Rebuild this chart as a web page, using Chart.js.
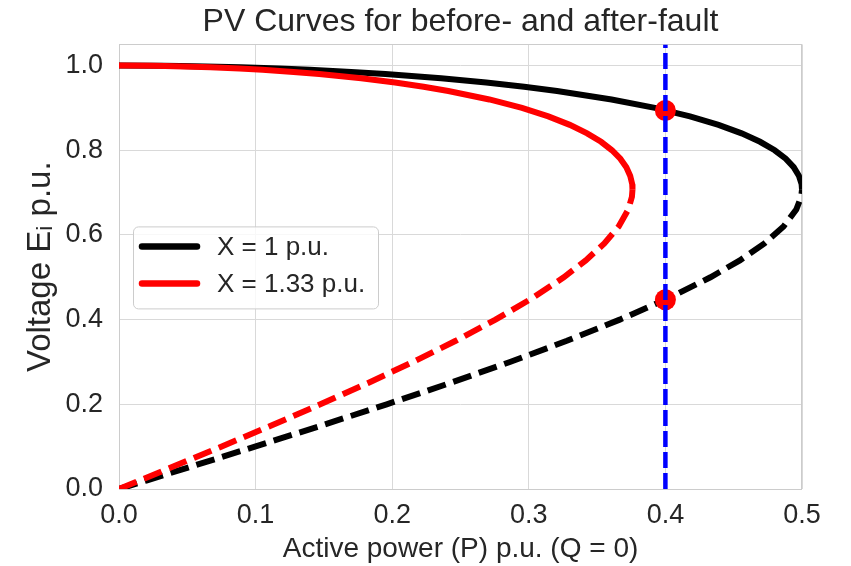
<!DOCTYPE html>
<html>
<head>
<meta charset="utf-8">
<script src="https://cdn.jsdelivr.net/npm/chart.js@4.4.1/dist/chart.umd.min.js"></script>
<style>
  html, body { margin: 0; padding: 0; background: #fff; }
</style>
</head>
<body>
<canvas id="pvChart" width="851" height="566"></canvas>
<script>
// voltage points on the upper (stable) branch
const vUpper = [1.0, 0.9995, 0.999, 0.998, 0.996, 0.993, 0.99, 0.985, 0.98, 0.97, 0.96, 0.95, 0.94, 0.92, 0.9, 0.88, 0.86, 0.84, 0.82, 0.8, 0.78, 0.76, 0.74, 0.72, 0.707]
const pUpperX1 = [0, 0.0316, 0.0447, 0.0631, 0.0890, 0.1173, 0.1397, 0.1700, 0.1950, 0.2358, 0.2688, 0.2966, 0.3207, 0.3606, 0.3923, 0.4180, 0.4389, 0.4558, 0.4693, 0.4800, 0.4881, 0.4939, 0.4977, 0.4997, 0.5000]
const pUpperX133 = [0, 0.0238, 0.0336, 0.0474, 0.0669, 0.0882, 0.1050, 0.1278, 0.1466, 0.1773, 0.2021, 0.2230, 0.2411, 0.2711, 0.2950, 0.3143, 0.3300, 0.3427, 0.3529, 0.3609, 0.3670, 0.3714, 0.3742, 0.3757, 0.3759]

// lower (unstable) branch
const vLower = [0, 0.02, 0.05, 0.1, 0.15, 0.2, 0.25, 0.3, 0.35, 0.4, 0.45, 0.5, 0.54, 0.58, 0.62, 0.66, 0.69, 0.707]
const pLowerX1 = [0, 0.0200, 0.0499, 0.0995, 0.1483, 0.1960, 0.2421, 0.2862, 0.3279, 0.3666, 0.4019, 0.4330, 0.4545, 0.4725, 0.4865, 0.4958, 0.4994, 0.5000]
const pLowerX133 = [0, 0.0150, 0.0375, 0.0748, 0.1115, 0.1474, 0.1820, 0.2152, 0.2465, 0.2756, 0.3022, 0.3256, 0.3417, 0.3553, 0.3658, 0.3728, 0.3755, 0.3759]

// fault power and operating points
const faultP = 0.4
const opVoltages = [0.894, 0.447]

const labels = ['X = 1 p.u.', 'X = 1.33 p.u.']
const xTicks = [0, 0.1, 0.2, 0.3, 0.4, 0.5]
const yTicks = [0, 0.2, 0.4, 0.6, 0.8, 1.0]
const yMax = 1.05

const textColor = '#262626'
const font = '"Liberation Sans", Arial, sans-serif'

function toPoints(ps, vs) {
    return ps.map((p, i) => ({ x: p, y: vs[i] }))
}

const lineStyle = { showLine: true, pointRadius: 0, borderWidth: 6, tension: 0, fill: false }

// box round the plot area (spines) and legend inside the plot
const frame = {
    id: 'frame',
    beforeDatasetsDraw(chart) {
        const { ctx, chartArea: a } = chart
        ctx.save()
        ctx.strokeStyle = '#cccccc'
        ctx.lineWidth = 1
        ctx.strokeRect(Math.round(a.left) + 0.5, Math.round(a.top) + 0.5, Math.round(a.right - a.left) - 1, Math.round(a.bottom - a.top))
        ctx.restore()
    },
    afterDatasetsDraw(chart) {
        const { ctx, chartArea: a } = chart
        const x = a.left + 14, y = a.top + 182, w = 245, h = 82
        ctx.save()
        ctx.beginPath()
        ctx.roundRect(x + 0.5, y + 0.5, w, h, 5)
        ctx.fillStyle = 'rgba(255,255,255,0.8)'
        ctx.fill()
        ctx.strokeStyle = '#cccccc'
        ctx.lineWidth = 1
        ctx.stroke()
        chart.data.datasets.slice(0, 2).forEach((ds, i) => {
            const cy = y + 20 + i * 37
            ctx.beginPath()
            ctx.moveTo(x + 9, cy)
            ctx.lineTo(x + 64, cy)
            ctx.strokeStyle = ds.borderColor
            ctx.lineWidth = 6.5
            ctx.lineCap = 'round'
            ctx.stroke()
            ctx.fillStyle = textColor
            ctx.font = '26px ' + font
            ctx.textBaseline = 'middle'
            ctx.fillText(ds.label, x + 84, cy + 1)
        })
        ctx.restore()
    }
}

const config = {
    type: 'scatter',
    data: {
        datasets: [
            { label: labels[0], data: toPoints(pUpperX1, vUpper), borderColor: '#000000', order: 5, ...lineStyle },
            { label: labels[1], data: toPoints(pUpperX133, vUpper), borderColor: '#ff0000', order: 4, ...lineStyle },
            { label: '', data: toPoints(pLowerX1, vLower), borderColor: '#000000', borderDash: [19, 8], order: 3, ...lineStyle },
            { label: '', data: toPoints(pLowerX133, vLower), borderColor: '#ff0000', borderDash: [19, 8], order: 2, ...lineStyle },
            {
                label: '',
                data: opVoltages.map(v => ({ x: faultP, y: v })),
                pointRadius: 10.5, backgroundColor: '#ff0000', borderWidth: 0, order: 1
            },
            {
                label: '',
                data: [{ x: faultP, y: 0 }, { x: faultP, y: yMax }],
                showLine: true, pointRadius: 0, borderWidth: 4.5, borderColor: '#0000ff',
                borderDash: [16, 5], order: 0
            }
        ]
    },
    options: {
        responsive: false,
        animation: false,
        layout: { padding: { left: 0, right: 49, top: 0, bottom: 0 } },
        plugins: {
            legend: { display: false },
            tooltip: { enabled: false },
            title: {
                display: true,
                text: 'PV Curves for before- and after-fault',
                fullSize: false,
                color: textColor,
                font: { family: font, size: 32, weight: 'normal', lineHeight: 1.2 },
                padding: { top: 3, bottom: 3 }
            }
        },
        scales: {
            x: {
                type: 'linear',
                min: 0,
                max: 0.5,
                afterBuildTicks: scale => { scale.ticks = xTicks.map(v => ({ value: v })) },
                afterFit: scale => { scale.height = 77 },
                grid: { color: '#d9d9d9', lineWidth: 1, drawTicks: false },
                border: { display: false },
                ticks: {
                    padding: 10,
                    color: textColor,
                    font: { family: font, size: 27 },
                    callback: v => v.toFixed(1)
                },
                title: {
                    display: true,
                    text: 'Active power (P) p.u. (Q = 0)',
                    color: textColor,
                    font: { family: font, size: 28, lineHeight: 1.2 },
                    padding: { top: 0, bottom: 0 }
                }
            },
            y: {
                type: 'linear',
                min: 0,
                max: yMax,
                afterBuildTicks: scale => { scale.ticks = yTicks.map(v => ({ value: v })) },
                afterFit: scale => { scale.width = 119 },
                grid: { color: '#d9d9d9', lineWidth: 1, drawTicks: false },
                border: { display: false },
                ticks: {
                    padding: 16,
                    color: textColor,
                    font: { family: font, size: 27 },
                    callback: v => v.toFixed(1)
                },
                title: {
                    display: true,
                    text: 'Voltage E\u1d62 p.u.',
                    color: textColor,
                    font: { family: font, size: 33, lineHeight: 1.2 },
                    padding: { top: 21, bottom: 0 }
                }
            }
        }
    },
    plugins: [frame]
}

const pvChart = new Chart(document.getElementById('pvChart'), config)
</script>
</body>
</html>
